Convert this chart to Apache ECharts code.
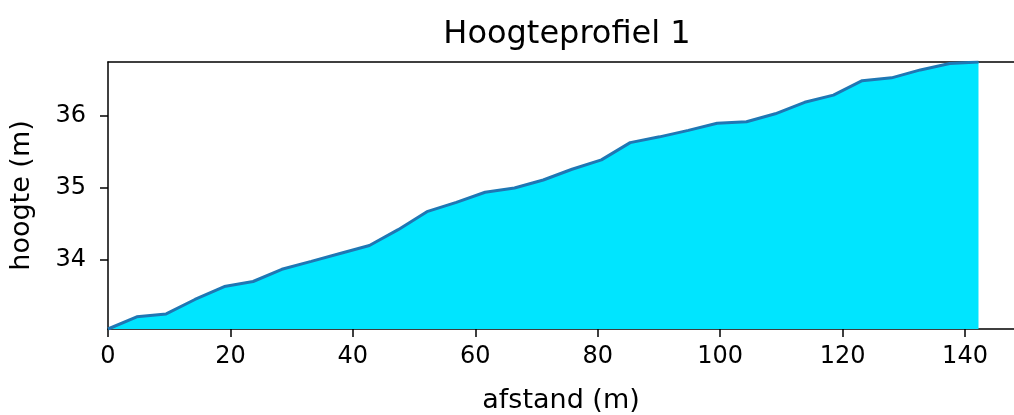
<!DOCTYPE html>
<html>
<head>
<meta charset="utf-8">
<script src="https://cdn.jsdelivr.net/npm/echarts@6/dist/echarts.min.js"></script>
<style>
html,body{margin:0;padding:0;background:#fff;}
#chart{width:1014px;height:415px;}
</style>
</head>
<body>
<div id="chart"></div>
<script>
// distance along profile (m)
const afstand = [0, 4.7, 9.5, 14.2, 19.0, 23.7, 28.4, 33.2, 37.9, 42.7, 47.4, 52.1, 56.9, 61.6, 66.4, 71.1,
  75.8, 80.6, 85.3, 90.1, 94.8, 99.5, 104.3, 109.0, 113.8, 118.5, 123.2, 128.0, 132.7, 137.5, 142.2];
// height (m)
const hoogte = [33.04, 33.21, 33.25, 33.45, 33.63, 33.70, 33.87, 33.98, 34.09, 34.20, 34.42, 34.67, 34.80, 34.94,
  35.00, 35.11, 35.26, 35.39, 35.63, 35.71, 35.80, 35.90, 35.92, 36.03, 36.19, 36.29, 36.49, 36.53, 36.64, 36.73, 36.75];
const xTicks = [0, 20, 40, 60, 80, 100, 120, 140];
const yTicks = [34, 35, 36];
const xMax = 148;

const points = afstand.map((d, i) => [d, hoogte[i]]);
const font = 'DejaVu Sans';
const chart = echarts.init(document.getElementById('chart'), null, {renderer: 'canvas'});
chart.setOption({
  animation: false,
  backgroundColor: '#ffffff',
  title: {
    text: 'Hoogteprofiel 1',
    left: 562, top: 14, textAlign: 'center',
    textStyle: {fontFamily: font, fontSize: 32, fontWeight: 'normal', color: '#000'}
  },
  grid: {left: 108, top: 62, right: 0, bottom: 86, containLabel: false, outerBoundsMode: 'none'},
  xAxis: [{
    type: 'value', min: 0, max: xMax,
    name: 'afstand (m)', nameLocation: 'middle', nameGap: 58,
    nameTextStyle: {fontFamily: font, fontSize: 27, color: '#000'},
    axisLine: {show: true, onZero: false, lineStyle: {color: '#000', width: 1.5}},
    axisTick: {show: true, length: 8, customValues: xTicks, lineStyle: {color: '#000', width: 1.5}},
    axisLabel: {customValues: xTicks, margin: 16, fontFamily: font, fontSize: 24, color: '#000'},
    splitLine: {show: false}
  }, {
    type: 'value', min: 0, max: xMax, position: 'top',
    axisLine: {show: true, onZero: false, lineStyle: {color: '#000', width: 1.5}},
    axisTick: {show: false}, axisLabel: {show: false}, splitLine: {show: false}
  }],
  yAxis: {
    type: 'value', min: 'dataMin', max: 'dataMax',
    name: 'hoogte (m)', nameLocation: 'middle', nameGap: 73,
    nameTextStyle: {fontFamily: font, fontSize: 27, color: '#000'},
    axisLine: {show: true, onZero: false, lineStyle: {color: '#000', width: 1.5}},
    axisTick: {show: true, length: 8, customValues: yTicks, lineStyle: {color: '#000', width: 1.5}},
    axisLabel: {customValues: yTicks, margin: 22, fontFamily: font, fontSize: 24, color: '#000'},
    splitLine: {show: false}
  },
  series: [{
    type: 'line', xAxisIndex: 0, data: points, symbol: 'none', silent: true,
    lineStyle: {color: '#1f77b4', width: 3},
    areaStyle: {color: '#00e5ff', opacity: 1, origin: 'start'},
    z: 1
  }]
});
</script>
</body>
</html>
